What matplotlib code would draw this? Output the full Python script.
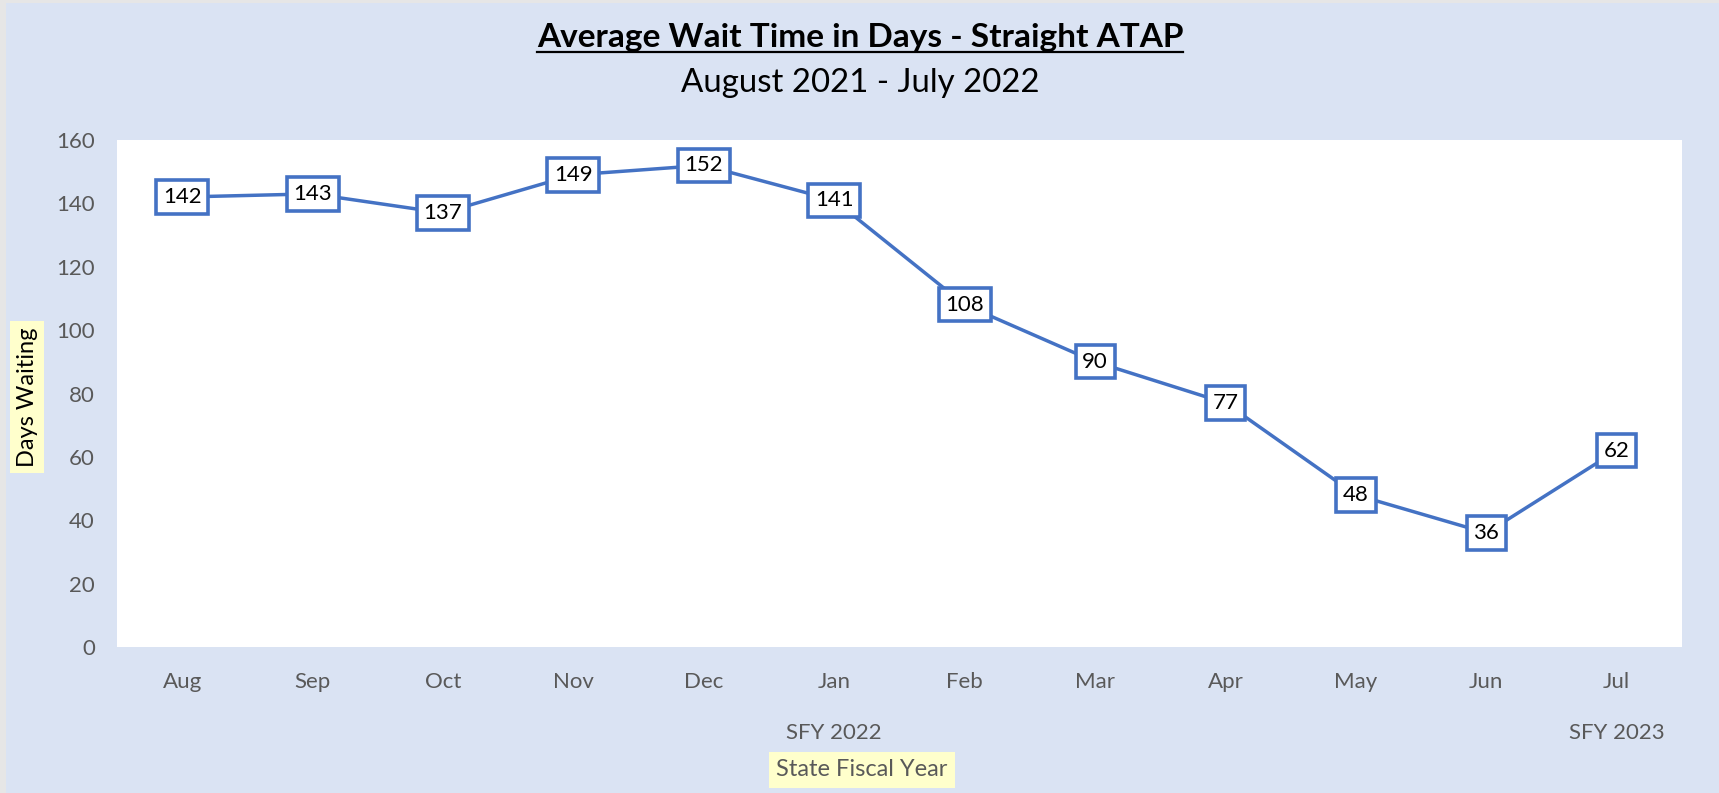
import matplotlib
matplotlib.use("Agg")
import matplotlib.pyplot as plt
import matplotlib.transforms as mtransforms
from matplotlib.patches import Rectangle

months = ["Aug", "Sep", "Oct", "Nov", "Dec", "Jan", "Feb", "Mar", "Apr", "May", "Jun", "Jul"]
wait_days = [142, 143, 137, 149, 152, 141, 108, 90, 77, 48, 36, 62]
fiscal_groups = ["SFY 2022", "SFY 2023"]
group_centers = [5, 11]
yticks = [0, 20, 40, 60, 80, 100, 120, 140, 160]

BG = "#DAE3F3"
BLUE = "#4472C4"
GRAY = "#595959"
plt.rcParams["font.family"] = ["Lato", "DejaVu Sans"]

W, H = 1719, 793
fig = plt.figure(figsize=(W / 100, H / 100), dpi=100)
fig.patch.set_facecolor("#E6E6E6")
fig.add_artist(Rectangle((6 / W, 0), 1, 1 - 3 / H, transform=fig.transFigure,
                         facecolor=BG, edgecolor="none", zorder=0))

left, right = 117 / W, 1682 / W
bottom, top = 1 - 647 / H, 1 - 140 / H
ax = fig.add_axes([left, bottom, right - left, top - bottom])
ax.set_facecolor("white")
x = list(range(len(months)))
ax.plot(x, wait_days, color=BLUE, lw=2.5, zorder=2)
for xi, v in zip(x, wait_days):
    ax.text(xi, v, str(v), ha="center", va="center", fontsize=16, color="black", zorder=3,
            bbox=dict(boxstyle="square,pad=0.3", facecolor="white", edgecolor=BLUE, linewidth=2.6))

ax.set_xlim(-0.5, 11.5)
ax.set_ylim(0, 160)
ax.set_yticks(yticks)
ax.set_yticklabels([str(t) for t in yticks], fontsize=16, color=GRAY)
ax.set_xticks(x)
ax.set_xticklabels(months, fontsize=16, color=GRAY)
ax.tick_params(axis="both", length=0)
ax.tick_params(axis="x", pad=18)
ax.tick_params(axis="y", pad=16)
for s in ax.spines.values():
    s.set_visible(False)

grp_tr = mtransforms.blended_transform_factory(ax.transData, fig.transFigure)
for g, c in zip(fiscal_groups, group_centers):
    ax.text(c, 1 - 733 / H, g, transform=grp_tr, ha="center", va="center",
            fontsize=16, color=GRAY, clip_on=False)

title = fig.text(860 / W, 1 - 47 / H, "Average Wait Time in Days - Straight ATAP", ha="center",
                 va="baseline", fontsize=24, fontweight="bold", color="black")
fig.text(860 / W, 1 - 92 / H, "August 2021 - July 2022", ha="center", va="baseline",
         fontsize=23.8, color="black")

fig.text(27 / W, 1 - 397 / H, "Days Waiting", rotation=90, ha="center", va="center",
         fontsize=17, color="black",
         bbox=dict(boxstyle="square,pad=0.28", facecolor="#FFFFCC", edgecolor="none"))
fig.text(862 / W, 1 - 770 / H, "State Fiscal Year", ha="center", va="center",
         fontsize=17, color=GRAY,
         bbox=dict(boxstyle="square,pad=0.3", facecolor="#FFFFCC", edgecolor="none"))

fig.canvas.draw()
bb = title.get_window_extent(fig.canvas.get_renderer())
fig.add_artist(plt.Line2D([bb.x0 / W, bb.x1 / W], [1 - 52 / H, 1 - 52 / H],
                          transform=fig.transFigure, color="black", lw=1.6))

fig.savefig("out.png", dpi=100, facecolor=fig.get_facecolor())
